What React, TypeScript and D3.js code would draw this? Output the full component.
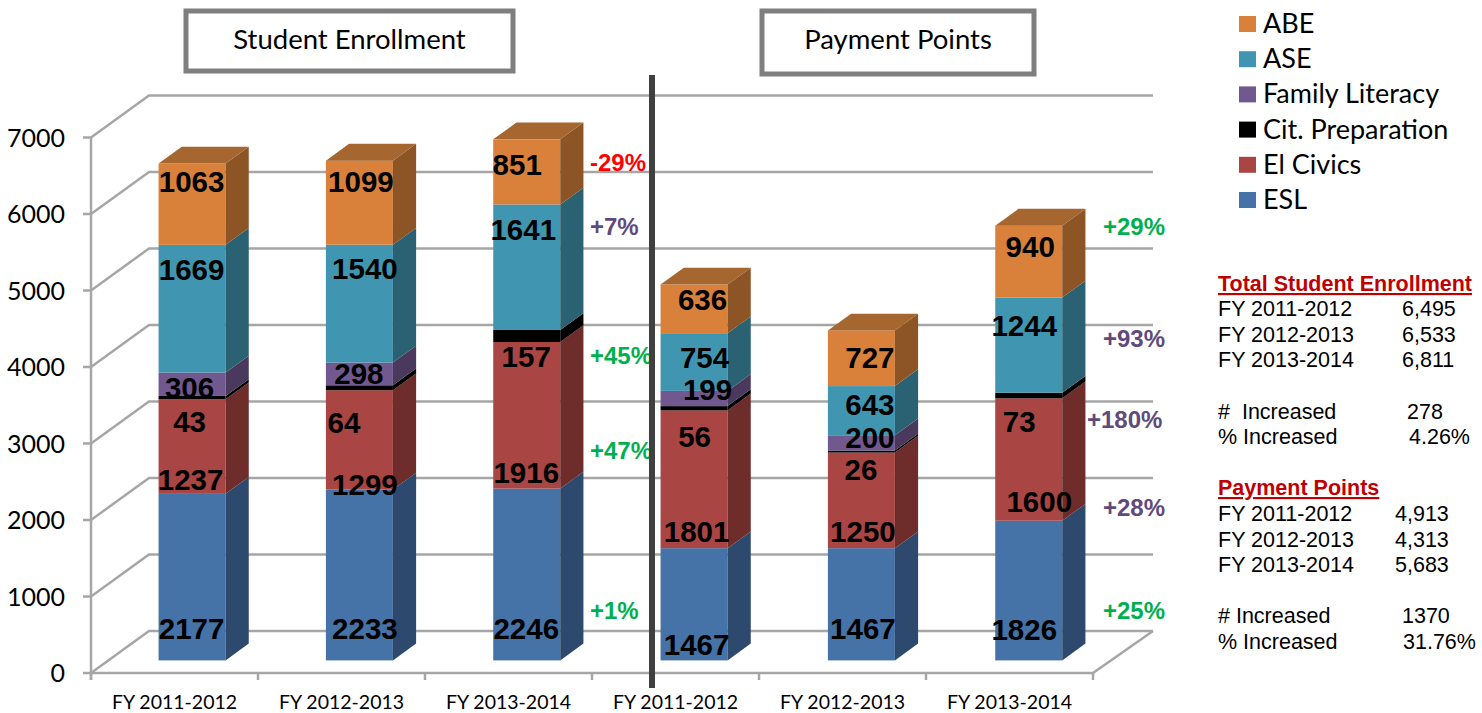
import React from "react";
import * as d3 from "d3";

const years = ["FY 2011-2012", "FY 2012-2013", "FY 2013-2014", "FY 2011-2012", "FY 2012-2013", "FY 2013-2014"];
const yTicks = [0, 1000, 2000, 3000, 4000, 5000, 6000, 7000];

// bottom to top of the stack
const seriesNames = ["ESL", "El Civics", "Cit. Preparation", "Family Literacy", "ASE", "ABE"];
const esl = [2177, 2233, 2246, 1467, 1467, 1826];
const elCivics = [1237, 1299, 1916, 1801, 1250, 1600];
const citPrep = [43, 64, 157, 56, 26, 73];
const familyLit = [306, 298, 0, 199, 200, 0];
const ase = [1669, 1540, 1641, 754, 643, 1244];
const abe = [1063, 1099, 851, 636, 727, 940];
const allSeries = [esl, elCivics, citPrep, familyLit, ase, abe];

const changeText = ["-29%", "+7%", "+45%", "+47%", "+1%", "+29%", "+93%", "+180%", "+28%", "+25%"];

const enrollRows = [["FY 2011-2012", "6,495"], ["FY 2012-2013", "6,533"], ["FY 2013-2014", "6,811"]];
const pointRows = [["FY 2011-2012", "4,913"], ["FY 2012-2013", "4,313"], ["FY 2013-2014", "5,683"]];

// colours per series: front, side, top
const front = ["#4572A7", "#A94542", "#000000", "#71588F", "#4096B0", "#D9813B"];
const side = ["#2D4A6E", "#6E2D2B", "#000000", "#4A395D", "#2A6273", "#8D5526"];
const topFace = ["#365A85", "#853634", "#111111", "#5A4672", "#33778C", "#A5672F"];

const GRAY = "#A6A6A6";
const DEPTH_X = 58;
const DEPTH_Y = 42;
const BAR_W = 67;
const BAR_NEAR = 0.3; // depth fraction where bar front sits
const BAR_FAR = 0.7;

// hand placed nudges of the value labels from the middle of each segment [dx, dy]
const labelNudge = [
  [[0, 53], [-1, 34], [-2, 25], [-2, 5], [0, -38], [0, -21]],
  [[6, 55], [6, 46], [-15, 36], [0, 1], [6, -34], [2, -20]],
  [[0, 56], [0, 59], [0, 22], [0, 0], [-3, -36], [-9, -6]],
  [[3, 42], [3, 54], [1, 30], [14, -8], [11, -3], [9, -8]],
  [[2, 26], [2, 33], [0, 19], [9, -4], [9, -5], [9, 1]],
  [[-4, 40], [11, 43], [-9, 27], [0, 0], [-4, -18], [2, -14]],
];

const changeSpots = [
  [590, 163, "#FF0000"],
  [590, 227, "#604A7B"],
  [590, 356, "#00B050"],
  [590, 451, "#00B050"],
  [590, 611, "#00B050"],
  [1103, 227, "#00B050"],
  [1103, 339, "#604A7B"],
  [1087, 420, "#604A7B"],
  [1103, 508, "#604A7B"],
  [1103, 611, "#00B050"],
];

const y = d3.scaleLinear().domain([0, 7000]).range([673, 137.5]);
const x = d3.scaleBand<number>().domain(d3.range(6)).range([91, 1095]);
const xTick = d3.scaleBand<number>().domain(d3.range(6)).range([91, 1093]);

const stackRows = years.map((_, i) => {
  const row: Record<string, number> = {};
  seriesNames.forEach((n, s) => (row[n] = allSeries[s][i]));
  return row;
});
const stacked = d3.stack<Record<string, number>>().keys(seriesNames)(stackRows);

const poly = d3.line();
const pt = (xv: number, v: number, depth: number): [number, number] => [xv + DEPTH_X * depth, y(v) - DEPTH_Y * depth];

const CALIBRI = "Lato, 'Open Sans', sans-serif";
const ARIAL = "'Liberation Sans', Arial, sans-serif";

function Bars() {
  return (
    <g>
      {years.map((_, i) => {
        const left = x(i)! + x.bandwidth() / 2 - BAR_W / 2;
        const right = left + BAR_W;
        const sideDx = DEPTH_X * (BAR_FAR - BAR_NEAR);
        const sideDy = DEPTH_Y * (BAR_FAR - BAR_NEAR);
        const total = stacked[stacked.length - 1][i][1];
        const tops = stacked.filter((l) => l[i][1] === total && l[i][1] > l[i][0]);
        const topIdx = seriesNames.indexOf(tops[0].key);
        return (
          <g key={i}>
            {stacked.map((layer, s) => {
              const [v0, v1] = layer[i];
              if (v1 === v0) return null;
              const a = pt(left, v0, BAR_NEAR);
              const b = pt(right, v1, BAR_NEAR);
              const near0 = pt(right, v0, BAR_NEAR);
              const sidePts: [number, number][] = [near0, [near0[0] + sideDx, near0[1] - sideDy], [b[0] + sideDx, b[1] - sideDy], b];
              return (
                <g key={s}>
                  <rect x={a[0]} y={b[1]} width={BAR_W} height={a[1] - b[1]} fill={front[s]} />
                  <path d={poly(sidePts) + "Z"} fill={side[s]} />
                </g>
              );
            })}
            <path
              d={poly([pt(left, total, BAR_NEAR), pt(right, total, BAR_NEAR), pt(right, total, BAR_FAR), pt(left, total, BAR_FAR)]) + "Z"}
              fill={topFace[topIdx]}
            />
          </g>
        );
      })}
    </g>
  );
}

function ValueLabels() {
  return (
    <g fontFamily={ARIAL} fontWeight="bold" fontSize={29.5} fill="#000" textAnchor="middle">
      {years.map((_, i) => {
        const mid = x(i)! + x.bandwidth() / 2 + DEPTH_X * BAR_NEAR;
        return stacked.map((layer, s) => {
          const [v0, v1] = layer[i];
          if (v1 === v0) return null;
          const [dx, dy] = labelNudge[i][s];
          const cy = (y(v0) + y(v1)) / 2 - DEPTH_Y * BAR_NEAR;
          return (
            <text key={i + "-" + s} x={mid + dx - 0.5} y={cy + dy + 9}>
              {v1 - v0}
            </text>
          );
        });
      })}
    </g>
  );
}

function Grid() {
  const x0 = xTick.range()[0];
  const x1 = xTick.range()[1];
  return (
    <g fill="none" stroke={GRAY} strokeWidth={2.5}>
      {yTicks.map((t) => (
        <path key={t} d={poly([[x0, y(t)], pt(x0, t, 1), pt(x.range()[1], t, 1)])!} />
      ))}
      <path d={poly([pt(x.range()[1], 0, 1), [x1, y(0)]])!} />
      <line x1={x0} x2={x0} y1={y(7000)} y2={y(0) + 7} />
      <line x1={x0} x2={x1} y1={y(0)} y2={y(0)} />
      {yTicks.map((t) => (
        <line key={t} x1={83} x2={x0} y1={y(t)} y2={y(t)} />
      ))}
      {d3.range(7).map((i) => {
        const tx = x0 + i * xTick.bandwidth();
        return <line key={i} x1={tx} x2={tx} y1={y(0)} y2={y(0) + 7} />;
      })}
    </g>
  );
}

function Axes() {
  return (
    <g fontFamily={CALIBRI} fill="#000">
      {yTicks.map((t) => (
        <text key={t} x={65} y={y(t) + 9} fontSize={25} textAnchor="end">
          {t}
        </text>
      ))}
      {years.map((yr, i) => (
        <text key={i} x={xTick(i)! + xTick.bandwidth() / 2} y={709} fontSize={19.5} textAnchor="middle">
          {yr}
        </text>
      ))}
    </g>
  );
}

function TitleBox({ x0, x1, y1, label }: { x0: number; x1: number; y1: number; label: string }) {
  return (
    <g>
      <rect x={x0} y={11} width={x1 - x0} height={y1 - 11} fill="#fff" stroke="#7F7F7F" strokeWidth={5} />
      <text x={(x0 + x1) / 2} y={49} fontFamily={CALIBRI} fontSize={27.5} textAnchor="middle" fill="#000">
        {label}
      </text>
    </g>
  );
}

function Legend() {
  const order = d3.range(seriesNames.length).reverse();
  const rowY = d3.scalePoint<number>().domain(order).range([24, 200]);
  return (
    <g fontFamily={CALIBRI} fontSize={27} fill="#000">
      {order.map((s) => (
        <g key={s}>
          <rect x={1239} y={rowY(s)! - 8} width={17} height={16} fill={front[s]} />
          <text x={1263} y={rowY(s)! + 9}>
            {seriesNames[s]}
          </text>
        </g>
      ))}
    </g>
  );
}

function Row({ a, b, bx, cy }: { a: string; b: string; bx: number; cy: number }) {
  return (
    <g>
      <text x={1218} y={cy + 7}>{a}</text>
      <text x={bx} y={cy + 7}>{b}</text>
    </g>
  );
}

function SideTable() {
  return (
    <g fontFamily={ARIAL} fontSize={21.5} fill="#000">
      <text x={1218} y={291} fontWeight="bold" fill="#C00000" textDecoration="underline">Total Student Enrollment</text>
      {enrollRows.map((r, i) => (
        <Row key={i} a={r[0]} b={r[1]} bx={1402} cy={[309, 335, 360][i]} />
      ))}
      <Row a={"#\u00A0 Increased"} b="278" bx={1407} cy={412} />
      <Row a="% Increased" b="4.26%" bx={1409} cy={437} />
      <text x={1218} y={495} fontWeight="bold" fill="#C00000" textDecoration="underline">Payment Points</text>
      {pointRows.map((r, i) => (
        <Row key={i} a={r[0]} b={r[1]} bx={1395} cy={[514, 540, 565][i]} />
      ))}
      <Row a="# Increased" b="1370" bx={1402} cy={616} />
      <Row a="% Increased" b="31.76%" bx={1403} cy={642} />
    </g>
  );
}

export default function App() {
  return (
    <svg width={1482} height={713} style={{ position: "absolute", left: 0, top: 0, display: "block", background: "#fff" }}>
      <Grid />
      <Axes />
      <Bars />
      <ValueLabels />
      <g fontFamily={ARIAL} fontWeight="bold" fontSize={24}>
        {changeText.map((t, i) => (
          <text key={i} x={changeSpots[i][0] as number} y={(changeSpots[i][1] as number) + 8} fill={changeSpots[i][2] as string}>
            {t}
          </text>
        ))}
      </g>
      <rect x={649} y={75} width={6} height={613} fill="#404040" />
      <TitleBox x0={186} x1={513} y1={71} label="Student Enrollment" />
      <TitleBox x0={762} x1={1034} y1={74} label="Payment Points" />
      <Legend />
      <SideTable />
    </svg>
  );
}
